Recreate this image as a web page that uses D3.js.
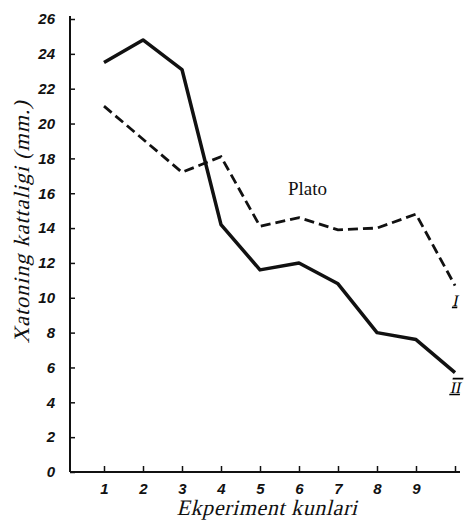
<!DOCTYPE html>
<html>
<head>
<meta charset="utf-8">
<script src="https://cdn.jsdelivr.net/npm/d3@7"></script>
<style>
  body { margin: 0; background: #fff; }
</style>
</head>
<body>
<script>
const days = [1, 2, 3, 4, 5, 6, 7, 8, 9, 10];
const seriesI = [21.0, 19.1, 17.2, 18.1, 14.1, 14.6, 13.9, 14.0, 14.8, 10.7];   // dashed
const seriesII = [23.5, 24.8, 23.1, 14.2, 11.6, 12.0, 10.8, 8.0, 7.6, 5.7];    // solid
const yTicks = [0, 2, 4, 6, 8, 10, 12, 14, 16, 18, 20, 22, 24, 26];
const xLabels = ["1", "2", "3", "4", "5", "6", "7", "8", "9", ""];

const width = 466, height = 523;
const serif = '"Liberation Serif", "DejaVu Serif", serif';
const tickFont = '"Liberation Sans", Arial, sans-serif';

const x = d3.scaleLinear().domain([1, 10]).range([104, 455]);
const y = d3.scaleLinear().domain([0, 26]).range([472, 19]);

const svg = d3.select('body').append('svg')
    .attr('width', width)
    .attr('height', height);

function styleTicks(g) {
    g.select('.domain').remove();
    g.selectAll('.tick line').attr('stroke', '#111').attr('stroke-width', 1.5);
    g.selectAll('.tick text')
        .style('font-family', tickFont)
        .style('font-weight', 'bold')
        .style('font-style', 'italic')
        .style('font-size', '15px')
        .attr('fill', '#111');
}

// y axis, ticks pointing inward
const yAxis = svg.append('g')
    .attr('transform', 'translate(' + 70 + ',0)')
    .call(d3.axisRight(y).tickValues(yTicks).tickSize(5).tickFormat(d3.format('d')));
styleTicks(yAxis);
yAxis.selectAll('.tick text').attr('x', -15).attr('text-anchor', 'end');

svg.append('line')
    .attr('x1', 70).attr('x2', 70)
    .attr('y1', y(26) - 3).attr('y2', y(0))
    .attr('stroke', '#111').attr('stroke-width', 2);

// x axis, ticks pointing up
const xAxis = svg.append('g')
    .attr('transform', 'translate(0,' + y(0) + ')')
    .call(d3.axisTop(x).tickValues(days).tickSize(6).tickFormat((d, i) => xLabels[i]));
styleTicks(xAxis);
xAxis.selectAll('.tick text').attr('y', 22);

svg.append('line')
    .attr('x1', 70).attr('x2', 460)
    .attr('y1', y(0)).attr('y2', y(0))
    .attr('stroke', '#111').attr('stroke-width', 2);

const line = d3.line()
    .x((d, i) => x(days[i]))
    .y(d => y(d));

svg.append('path')
    .datum(seriesI)
    .attr('d', line)
    .attr('fill', 'none')
    .attr('stroke', '#111')
    .attr('stroke-width', 2.8)
    .attr('stroke-dasharray', '10,5');

svg.append('path')
    .datum(seriesII)
    .attr('d', line)
    .attr('fill', 'none')
    .attr('stroke', '#111')
    .attr('stroke-width', 3.5)
    .attr('stroke-linejoin', 'round');

// labels (serif slanted by hand, since the italic face falls back to sans)
svg.append('text')
    .attr('transform', 'translate(267,515) skewX(-14)')
    .attr('text-anchor', 'middle')
    .style('font-family', serif)
    .style('font-size', '22px')
    .style('letter-spacing', '0.6px')
    .attr('fill', '#111')
    .text('Ekperiment kunlari');

svg.append('text')
    .attr('transform', 'translate(29,222) rotate(-90) skewX(-14)')
    .attr('text-anchor', 'middle')
    .style('font-family', serif)
    .style('font-size', '22px')
    .style('letter-spacing', '1px')
    .attr('fill', '#111')
    .text('Xatoning kattaligi (mm.)');

svg.append('text')
    .attr('x', 288).attr('y', 195)
    .style('font-family', serif)
    .style('font-size', '19px')
    .attr('fill', '#111')
    .text('Plato');

svg.append('text')
    .attr('transform', 'translate(' + x(10) + ',' + (y(seriesI[9]) + 20) + ') skewX(-12)')
    .attr('text-anchor', 'middle')
    .style('font-family', serif)
    .style('font-size', '16px')
    .style('text-decoration', 'underline')
    .text('I');

svg.append('text')
    .attr('transform', 'translate(' + x(10) + ',' + (y(seriesII[9]) + 20) + ') skewX(-12)')
    .attr('text-anchor', 'middle')
    .style('font-family', serif)
    .style('font-size', '16px')
    .style('text-decoration', 'underline overline')
    .text('II');
</script>
</body>
</html>
